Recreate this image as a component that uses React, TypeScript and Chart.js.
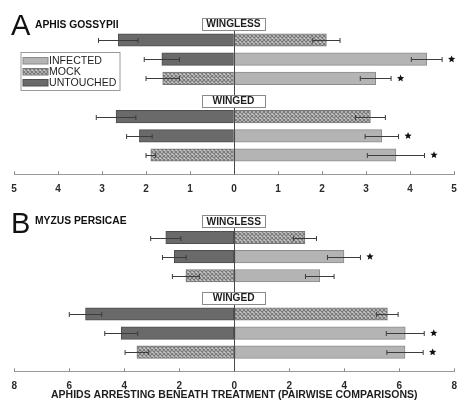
import React, { useEffect, useRef } from "react";
import { Chart, registerables } from "chart.js";
Chart.register(...registerables);

// ---------- data ----------
const rowNames = [
  "WINGLESS",
  "UNTOUCHED vs MOCK",
  "UNTOUCHED vs INFECTED",
  "MOCK vs INFECTED",
  "WINGED",
  "UNTOUCHED vs MOCK",
  "UNTOUCHED vs INFECTED",
  "MOCK vs INFECTED",
];
const groupRows = [true, false, false, false, true, false, false, false];
const leftTreatment = ["", "UNTOUCHED", "UNTOUCHED", "MOCK", "", "UNTOUCHED", "UNTOUCHED", "MOCK"];
const rightTreatment = ["", "MOCK", "INFECTED", "INFECTED", "", "MOCK", "INFECTED", "INFECTED"];
const treatments = ["INFECTED", "MOCK", "UNTOUCHED"];

// Panel A: Aphis gossypii
const aLeftValues = [null, 2.63, 1.64, 1.62, null, 2.68, 2.15, 1.89];
const aLeftErrors = [null, 0.45, 0.4, 0.38, null, 0.45, 0.29, 0.11];
const aRightValues = [null, 2.1, 4.38, 3.22, null, 3.1, 3.36, 3.68];
const aRightErrors = [null, 0.31, 0.35, 0.35, null, 0.34, 0.38, 0.65];
const aSignificant = [false, false, true, true, false, false, true, true];
const aTicks = [5, 1]; // max, step

// Panel B: Myzus persicae
const bLeftValues = [null, 2.49, 2.18, 1.76, null, 5.41, 4.11, 3.54];
const bLeftErrors = [null, 0.55, 0.43, 0.49, null, 0.59, 0.6, 0.43];
const bRightValues = [null, 2.57, 3.99, 3.11, null, 5.57, 6.22, 6.21];
const bRightErrors = [null, 0.42, 0.6, 0.52, null, 0.39, 0.69, 0.66];
const bSignificant = [false, false, true, false, false, false, true, true];
const bTicks = [8, 2];

const axisTitle = "APHIDS ARRESTING BENEATH TREATMENT (PAIRWISE COMPARISONS)";

// ---------- styles ----------
const FONT = "'Liberation Sans', Arial, Helvetica, sans-serif";
const FILLS: Record<string, string> = { INFECTED: "#b4b4b4", MOCK: "", UNTOUCHED: "#6a6a6a" };
const BORDERS: Record<string, string> = { INFECTED: "#8c8c8c", MOCK: "#777777", UNTOUCHED: "#4e4e4e" };

function makePattern(ctx: CanvasRenderingContext2D) {
  const c = document.createElement("canvas");
  c.width = 4;
  c.height = 4;
  const g = c.getContext("2d")!;
  g.fillStyle = "#c8c8c8";
  g.fillRect(0, 0, 4, 4);
  g.strokeStyle = "#767676";
  g.lineWidth = 1.1;
  g.beginPath();
  g.moveTo(0, 0);
  g.lineTo(4, 4);
  g.moveTo(4, 0);
  g.lineTo(0, 4);
  g.stroke();
  return ctx.createPattern(c, "repeat")!;
}

function pad<T>(arr: T[]): (T | null)[] {
  return [null, ...arr, null];
}

function starPath(ctx: CanvasRenderingContext2D, cx: number, cy: number, r: number) {
  ctx.beginPath();
  for (let k = 0; k < 10; k++) {
    const rad = k % 2 === 0 ? r : r * 0.45;
    const ang = -Math.PI / 2 + (k * Math.PI) / 5;
    const px = cx + rad * Math.cos(ang);
    const py = cy + rad * Math.sin(ang);
    if (k === 0) ctx.moveTo(px, py);
    else ctx.lineTo(px, py);
  }
  ctx.closePath();
}

const decorPlugin = {
  id: "decor",
  afterDatasetsDraw(chart: any, _args: any, opts: any) {
    const ctx: CanvasRenderingContext2D = chart.ctx;
    const xs = chart.scales.x;
    const ys = chart.scales.y;
    const area = chart.chartArea;
    const x0 = xs.getPixelForValue(0);
    ctx.save();

    // upward tick marks
    ctx.strokeStyle = "#8a8a8a";
    ctx.lineWidth = 1;
    xs.ticks.forEach((t: any) => {
      const px = Math.round(xs.getPixelForValue(t.value)) + 0.5;
      ctx.beginPath();
      ctx.moveTo(px, area.bottom);
      ctx.lineTo(px, area.bottom - 3);
      ctx.stroke();
    });

    // zero line
    const firstGroup = ys.getPixelForValue(1) + 3 + 6;
    ctx.strokeStyle = "#4a4a4a";
    ctx.beginPath();
    ctx.moveTo(Math.round(x0) + 0.5, firstGroup);
    ctx.lineTo(Math.round(x0) + 0.5, area.bottom);
    ctx.stroke();

    // error bars
    ctx.strokeStyle = "#3c3c3c";
    ctx.lineWidth = 1;
    chart.data.datasets.forEach((ds: any, di: number) => {
      const meta = chart.getDatasetMeta(di);
      ds.data.forEach((v: number | null, i: number) => {
        if (v == null) return;
        const e = ds.errors[i];
        const el = meta.data[i];
        const yc = Math.round(el.y) + 0.5;
        const a = xs.getPixelForValue(v - e);
        const b = xs.getPixelForValue(v + e);
        ctx.beginPath();
        ctx.moveTo(a, yc);
        ctx.lineTo(b, yc);
        ctx.moveTo(a, yc - 2.5);
        ctx.lineTo(a, yc + 2.5);
        ctx.moveTo(b, yc - 2.5);
        ctx.lineTo(b, yc + 2.5);
        ctx.stroke();
      });
    });

    // significance stars
    ctx.fillStyle = "#111";
    opts.significant.forEach((s: boolean, i: number) => {
      if (!s) return;
      const v = opts.rightValues[i] + opts.rightErrors[i];
      const px = xs.getPixelForValue(v) + 9.5;
      const py = ys.getPixelForValue(i + 1);
      starPath(ctx, px, py, 3.8);
      ctx.fill();
    });

    // group label boxes
    rowNames.forEach((name, i) => {
      if (!groupRows[i]) return;
      const cy = ys.getPixelForValue(i + 1) + 3;
      const w = 63;
      const h = 12;
      const left = Math.round(x0 - 0.5 - w / 2) + 0.5;
      const top = Math.round(cy - h / 2) + 0.5;
      ctx.fillStyle = "#ffffff";
      ctx.fillRect(left, top, w, h);
      ctx.strokeStyle = "#8a8a8a";
      ctx.strokeRect(left, top, w, h);
      ctx.fillStyle = "#1e1e1e";
      ctx.font = `bold 10.2px ${FONT}`;
      ctx.textAlign = "center";
      ctx.textBaseline = "middle";
      ctx.fillText(name, x0 - 0.5, cy + 0.5);
    });

    // legend
    if (opts.legend) {
      const L = opts.legend;
      ctx.fillStyle = "#ffffff";
      ctx.fillRect(L.x + 0.5, L.y + 0.5, L.w, L.h);
      ctx.strokeStyle = "#9a9a9a";
      ctx.strokeRect(L.x + 0.5, L.y + 0.5, L.w, L.h);
      chart.data.datasets.forEach((ds: any, di: number) => {
        const sy = L.y + 5.5 + di * 11;
        ctx.fillStyle = ds.backgroundColor;
        ctx.fillRect(L.x + 2.5, sy, 25, 6.5);
        ctx.strokeStyle = ds.borderColor;
        ctx.strokeRect(L.x + 2.5, sy, 25, 6.5);
        ctx.fillStyle = "#1e1e1e";
        ctx.font = `10.6px ${FONT}`;
        ctx.textAlign = "left";
        ctx.textBaseline = "middle";
        ctx.fillText(ds.label, L.x + 28.5, sy + 3.8);
      });
    }

    // panel letter and species
    ctx.fillStyle = "#111";
    ctx.textAlign = "left";
    ctx.textBaseline = "alphabetic";
    ctx.font = `29px ${FONT}`;
    ctx.fillText(opts.letter, 11, opts.letterBaseline);
    ctx.font = `bold 10.3px ${FONT}`;
    ctx.fillText(opts.species, 35, opts.speciesBaseline);

    ctx.restore();
  },
};

type PanelProps = {
  top: number;
  height: number;
  leftValues: (number | null)[];
  leftErrors: (number | null)[];
  rightValues: (number | null)[];
  rightErrors: (number | null)[];
  significant: boolean[];
  ticks: number[];
  padding: { left: number; right: number; top: number; bottom: number };
  axisHeight: number;
  letter: string;
  species: string;
  letterBaseline: number;
  speciesBaseline: number;
  legend?: { x: number; y: number; w: number; h: number };
  title?: string;
};

function Panel(p: PanelProps) {
  const ref = useRef<HTMLCanvasElement>(null);
  useEffect(() => {
    const canvas = ref.current!;
    const ctx = canvas.getContext("2d")!;
    const pattern = makePattern(ctx);
    const datasets = treatments.map((t) => {
      const data: (number | null)[] = [];
      const errors: (number | null)[] = [];
      rowNames.forEach((_, i) => {
        if (rightTreatment[i] === t) {
          data.push(p.rightValues[i]);
          errors.push(p.rightErrors[i]);
        } else if (leftTreatment[i] === t) {
          data.push(-(p.leftValues[i] as number));
          errors.push(p.leftErrors[i]);
        } else {
          data.push(null);
          errors.push(null);
        }
      });
      return {
        label: t,
        data: pad(data),
        errors: pad(errors),
        backgroundColor: t === "MOCK" ? (pattern as any) : FILLS[t],
        borderColor: BORDERS[t],
        borderWidth: 1,
        borderSkipped: false,
        barThickness: 12.5,
      };
    });
    const [max, step] = p.ticks;
    const chart = new Chart(ctx, {
      type: "bar",
      data: { labels: pad(rowNames).map((l) => l ?? ""), datasets: datasets as any },
      plugins: [decorPlugin as any],
      options: {
        animation: false,
        responsive: false,
        indexAxis: "y",
        layout: { padding: p.padding },
        plugins: {
          legend: { display: false },
          tooltip: { enabled: false },
          decor: {
            significant: p.significant,
            rightValues: p.rightValues,
            rightErrors: p.rightErrors,
            legend: p.legend,
            letter: p.letter,
            species: p.species,
            letterBaseline: p.letterBaseline,
            speciesBaseline: p.speciesBaseline,
          },
        } as any,
        scales: {
          y: {
            type: "category",
            display: false,
            stacked: true,
            offset: false,
          },
          x: {
            type: "linear",
            stacked: true,
            min: -max,
            max: max,
            grid: {
              display: true,
              drawOnChartArea: false,
              drawTicks: true,
              tickLength: 9,
              color: "rgba(0,0,0,0)",
            },
            border: { display: true, color: "#9a9a9a", width: 1 },
            ticks: {
              stepSize: step,
              autoSkip: false,
              maxRotation: 0,
              padding: 0,
              color: "#2a2a2a",
              font: { family: FONT, size: 10, weight: "bold" },
              callback: (v: any) => String(Math.abs(Number(v))),
            },
            title: {
              display: !!p.title,
              text: p.title || "",
              color: "#1e1e1e",
              font: { family: FONT, size: 10.5, weight: "bold" },
              padding: { top: 0, bottom: 0 },
            },
            afterFit: (s: any) => {
              s.height = p.axisHeight;
            },
          } as any,
        },
      },
    });
    return () => chart.destroy();
  }, []);
  return (
    <canvas
      ref={ref}
      width={457}
      height={p.height}
      style={{ position: "absolute", left: 0, top: p.top, width: 457, height: p.height }}
    />
  );
}

export default function App() {
  return (
    <div style={{ position: "absolute", left: 0, top: 0, width: 457, height: 401, background: "#fff" }}>
      <Panel
        top={0}
        height={200}
        leftValues={aLeftValues}
        leftErrors={aLeftErrors}
        rightValues={aRightValues}
        rightErrors={aRightErrors}
        significant={aSignificant}
        ticks={aTicks}
        padding={{ left: 14, right: 3, top: 1.7, bottom: 0 }}
        axisHeight={25.8}
        letter="A"
        species="APHIS GOSSYPII"
        letterBaseline={35}
        speciesBaseline={28.3}
        legend={{ x: 20.5, y: 52, w: 99, h: 38 }}
      />
      <Panel
        top={198}
        height={203}
        leftValues={bLeftValues}
        leftErrors={bLeftErrors}
        rightValues={bRightValues}
        rightErrors={bRightErrors}
        significant={bSignificant}
        ticks={bTicks}
        padding={{ left: 14.3, right: 2.7, top: 1.3, bottom: 0 }}
        axisHeight={29.7}
        letter="B"
        species="MYZUS PERSICAE"
        letterBaseline={34.7}
        speciesBaseline={26}
        title={axisTitle}
      />
    </div>
  );
}
